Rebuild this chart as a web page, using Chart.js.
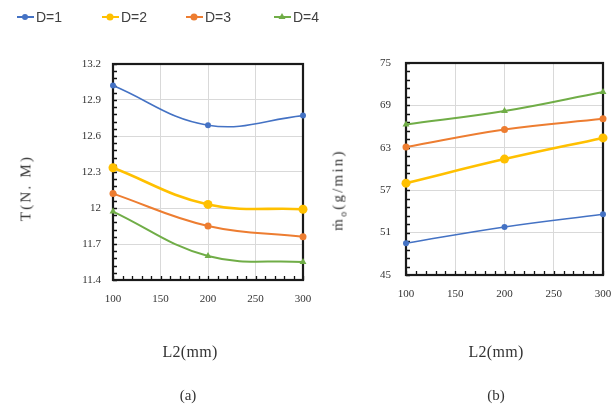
<!DOCTYPE html>
<html>
<head>
<meta charset="utf-8">
<script src="https://cdn.jsdelivr.net/npm/chart.js@4"></script>
<style>
  html, body { margin:0; padding:0; background:#fff; }
  body { position:relative; width:616px; height:406px; overflow:hidden; font-family:"Liberation Serif", serif; color:#333; }
  canvas { position:absolute; top:0; }
  .legend { position:absolute; top:8px; font-family:"Liberation Sans", Arial, sans-serif; font-size:14px; color:#404040; display:flex; align-items:center; }
  .legend svg { margin-right:1px; }
  .ytitle { position:absolute; white-space:nowrap; font-size:15px; letter-spacing:2.2px; transform:translate(-50%,-50%) rotate(-90deg); }
  .xtitle { position:absolute; white-space:nowrap; font-size:16px; letter-spacing:0.3px; transform:translate(-50%,-50%); }
  .sub { position:absolute; white-space:nowrap; font-size:15px; transform:translate(-50%,-50%); }
  sub { font-size:10px; }
</style>
</head>
<body>
<canvas id="cA" width="330" height="406" style="left:0px"></canvas>
<canvas id="cB" width="340" height="406" style="left:296px"></canvas>

<div id="legend"></div>

<div class="ytitle" style="left:26px; top:188px;">T(N. M)</div>
<div class="ytitle" style="left:339px; top:190px;">ṁ<sub>o</sub>(g/min)</div>
<div class="xtitle" style="left:190px; top:352px;">L2(mm)</div>
<div class="xtitle" style="left:496px; top:352px;">L2(mm)</div>
<div class="sub" style="left:188px; top:395px;">(a)</div>
<div class="sub" style="left:496px; top:395px;">(b)</div>

<script>
// ---------- data ----------
const categories = [100, 200, 300];
const seriesNames = ['D=1', 'D=2', 'D=3', 'D=4'];

const torqueD1 = [13.02, 12.69, 12.77];
const torqueD2 = [12.335, 12.03, 11.99];
const torqueD3 = [12.12, 11.85, 11.76];
const torqueD4 = [11.97, 11.60, 11.55];

const flowD1 = [49.5, 51.8, 53.6];
const flowD2 = [58.0, 61.4, 64.4];
const flowD3 = [63.1, 65.6, 67.1];
const flowD4 = [66.3, 68.2, 70.9];

const xTickValues = [100, 150, 200, 250, 300];
const xTickLabels = ['100', '150', '200', '250', '300'];
const torqueTickValues = [11.4, 11.7, 12, 12.3, 12.6, 12.9, 13.2];
const torqueTickLabels = ['11.4', '11.7', '12', '12.3', '12.6', '12.9', '13.2'];
const flowTickValues = [45, 51, 57, 63, 69, 75];
const flowTickLabels = ['45', '51', '57', '63', '69', '75'];

// ---------- styles ----------
const colors = ['#4472C4', '#FFC000', '#ED7D31', '#70AD47'];
const widths = [1.6, 2.6, 2, 2];
const pointStyles = ['circle', 'circle', 'circle', 'triangle'];
const radii = [3, 4.5, 3.5, 4];

// ---------- legend (HTML) ----------
const legendX = [16, 101, 185, 273];
const legendEl = document.getElementById('legend');
seriesNames.forEach((name, i) => {
  const d = document.createElement('div');
  d.className = 'legend';
  d.style.left = legendX[i] + 'px';
  let marker;
  if (pointStyles[i] === 'triangle') {
    marker = `<polygon points="9,5 12.5,11 5.5,11" fill="${colors[i]}"/>`;
  } else {
    marker = `<circle cx="9" cy="9" r="${Math.min(radii[i], 3.5)}" fill="${colors[i]}"/>`;
  }
  d.innerHTML = `<svg width="19" height="18"><line x1="1" y1="9" x2="18" y2="9" stroke="${colors[i]}" stroke-width="2"/>${marker}</svg><span>${name}</span>`;
  legendEl.appendChild(d);
});

// ---------- plugins ----------
const frameAndMinor = {
  id: 'frameAndMinor',
  beforeDatasetsDraw(chart, args, opts) {
    const {ctx, chartArea: a, scales} = chart;
    ctx.save();
    ctx.strokeStyle = '#111';
    ctx.lineWidth = 1.3;
    const ys = scales.y, xs = scales.x;
    const yStep = (opts.yStep) / 5;
    ctx.beginPath();
    for (let v = ys.min; v <= ys.max + 1e-9; v += yStep) {
      const p = Math.round(ys.getPixelForValue(v)) + 0.5;
      ctx.moveTo(a.left, p); ctx.lineTo(a.left + 4, p);
    }
    const xStep = 10;
    for (let v = xs.min; v <= xs.max + 1e-9; v += xStep) {
      const p = Math.round(xs.getPixelForValue(v)) + 0.5;
      ctx.moveTo(p, a.bottom); ctx.lineTo(p, a.bottom - 4);
    }
    ctx.stroke();
    ctx.strokeStyle = '#1a1a1a';
    ctx.lineWidth = 2.2;
    ctx.strokeRect(a.left, a.top, a.right - a.left, a.bottom - a.top);
    ctx.restore();
  }
};

function makeDatasets(seriesArrays) {
  return seriesArrays.map((vals, i) => ({
    label: seriesNames[i],
    data: categories.map((c, j) => ({x: c, y: vals[j]})),
    borderColor: colors[i],
    backgroundColor: colors[i],
    borderWidth: widths[i],
    pointStyle: pointStyles[i],
    pointRadius: radii[i],
    pointHoverRadius: radii[i],
    pointBorderWidth: 0,
    tension: 0.4,
    clip: false
  }));
}

function makeChart(id, seriesArrays, yVals, yLabels, yMin, yMax, layout) {
  return new Chart(document.getElementById(id), {
    type: 'line',
    data: { datasets: makeDatasets(seriesArrays) },
    plugins: [frameAndMinor],
    options: {
      responsive: false,
      animation: false,
      devicePixelRatio: 1,
      layout: { padding: { top: layout.top, right: layout.right, bottom: 0, left: 0 } },
      plugins: {
        legend: { display: false },
        tooltip: { enabled: false },
        frameAndMinor: { yStep: yVals[1] - yVals[0] }
      },
      scales: {
        x: {
          type: 'linear',
          min: 100, max: 300,
          afterFit(s) { s.height = layout.xHeight; },
          afterBuildTicks(s) { s.ticks = xTickValues.map(v => ({value: v})); },
          ticks: {
            padding: layout.xPad,
            color: '#333',
            font: { family: 'Liberation Serif', size: 11 },
            callback: (v) => xTickLabels[xTickValues.indexOf(v)]
          },
          grid: { color: '#d9d9d9', lineWidth: 1, drawTicks: false },
          border: { display: false }
        },
        y: {
          type: 'linear',
          min: yMin, max: yMax,
          afterFit(s) { s.width = layout.yWidth; },
          afterBuildTicks(s) { s.ticks = yVals.map(v => ({value: v})); },
          ticks: {
            padding: layout.yPad,
            color: '#333',
            font: { family: 'Liberation Serif', size: 11 },
            callback: (v) => {
              const k = yVals.findIndex(t => Math.abs(t - v) < 1e-6);
              return k >= 0 ? yLabels[k] : '';
            }
          },
          grid: { color: '#d9d9d9', lineWidth: 1, drawTicks: false },
          border: { display: false }
        }
      }
    }
  });
}

makeChart('cA', [torqueD1, torqueD2, torqueD3, torqueD4],
  torqueTickValues, torqueTickLabels, 11.4, 13.2,
  { top: 64, right: 27, xHeight: 126, yWidth: 113, xPad: 13, yPad: 12 });

makeChart('cB', [flowD1, flowD2, flowD3, flowD4],
  flowTickValues, flowTickLabels, 45, 75,
  { top: 63, right: 33, xHeight: 131, yWidth: 110, xPad: 13, yPad: 15 });
</script>
</body>
</html>
